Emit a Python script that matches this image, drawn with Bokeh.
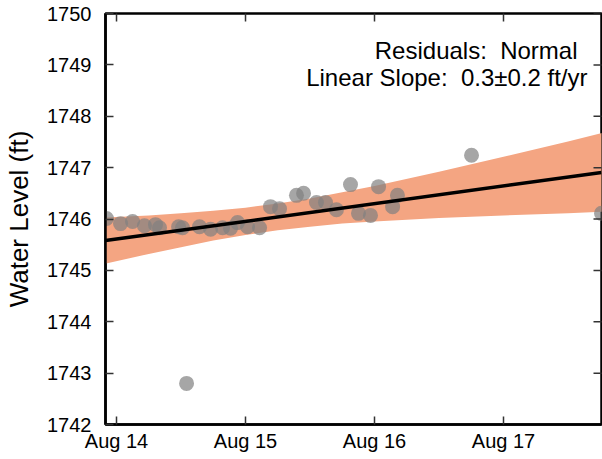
import numpy as np
import pandas as pd
from bokeh.plotting import figure
from bokeh.models import (ColumnDataSource, Label, DatetimeTickFormatter, DaysTicker,
                          Range1d, SingleIntervalTicker)
from bokeh.embed import file_html
from bokeh.resources import INLINE

# ---- data ----
obs_time = ["2015-08-13 22:08", "2015-08-14 00:45", "2015-08-14 02:59", "2015-08-14 05:12",
            "2015-08-14 07:15", "2015-08-14 08:00", "2015-08-14 11:33", "2015-08-14 12:17",
            "2015-08-14 13:02", "2015-08-14 15:26", "2015-08-14 17:30", "2015-08-14 19:44",
            "2015-08-14 21:13", "2015-08-14 22:31", "2015-08-15 00:23", "2015-08-15 02:37",
            "2015-08-15 04:39", "2015-08-15 06:20", "2015-08-15 09:29", "2015-08-15 10:48",
            "2015-08-15 13:12", "2015-08-15 14:53", "2015-08-15 16:55", "2015-08-15 19:32",
            "2015-08-15 21:01", "2015-08-15 23:15", "2015-08-16 00:45", "2015-08-16 03:22",
            "2015-08-16 04:16", "2015-08-16 18:03", "2015-08-17 18:14"]
obs_level = [1746.01, 1745.91, 1745.95, 1745.87,
             1745.89, 1745.83, 1745.85, 1745.83,
             1742.80, 1745.85, 1745.80, 1745.83,
             1745.82, 1745.93, 1745.85, 1745.83,
             1746.24, 1746.20, 1746.46, 1746.50,
             1746.32, 1746.32, 1746.18, 1746.67,
             1746.11, 1746.07, 1746.63, 1746.24,
             1746.46, 1747.24, 1746.11]

fit_time = ["2015-08-13 21:57", "2015-08-17 18:14"]
fit_level = [1745.58, 1746.905]

band_time = ["2015-08-13 21:50", "2015-08-14 06:00", "2015-08-14 12:00", "2015-08-14 18:00",
             "2015-08-15 00:00", "2015-08-15 06:00", "2015-08-15 12:00", "2015-08-15 18:00",
             "2015-08-16 00:00", "2015-08-16 12:00", "2015-08-17 00:00", "2015-08-17 12:00",
             "2015-08-17 18:29"]
band_lower = [1745.13, 1745.32, 1745.45, 1745.58, 1745.69, 1745.78, 1745.85, 1745.91,
              1745.95, 1746.02, 1746.07, 1746.11, 1746.14]
band_upper = [1746.03, 1746.07, 1746.11, 1746.16, 1746.22, 1746.30, 1746.40, 1746.52,
              1746.64, 1746.92, 1747.21, 1747.51, 1747.68]

x_start, x_end = "2015-08-13 21:57", "2015-08-17 18:14"
y_start, y_end = 1742, 1750
day_ticks = ["2015-08-14", "2015-08-15", "2015-08-16", "2015-08-17"]
level_ticks = [1742, 1743, 1744, 1745, 1746, 1747, 1748, 1749, 1750]

NB = "\u00a0"
annot_line1 = "Residuals:" + NB + NB + "Normal"
annot_line2 = "Linear Slope:" + NB + NB + "0.3\u00b10.2 ft/yr"
y_label = "Water Level (ft)"

FONT = "Liberation Sans"
TICK_COLOR = "#333333"

obs = ColumnDataSource(dict(t=pd.to_datetime(obs_time), v=obs_level))
fit = ColumnDataSource(dict(t=pd.to_datetime(fit_time), v=fit_level))
band = ColumnDataSource(dict(t=pd.to_datetime(band_time), lo=band_lower, hi=band_upper))

xs, xe = pd.Timestamp(x_start), pd.Timestamp(x_end)
p = figure(frame_width=496, frame_height=411, output_backend="svg", toolbar_location=None,
           x_axis_type="datetime",
           x_range=Range1d(xs, xe), y_range=Range1d(y_start, y_end),
           min_border_left=105, min_border_right=1, min_border_top=13, min_border_bottom=34)
p.xgrid.visible = False
p.ygrid.visible = False
p.outline_line_color = "black"
p.outline_line_width = 2.5
p.outline_line_alpha = 1.0
p.background_fill_color = "white"
p.border_fill_color = "white"

p.varea(x="t", y1="lo", y2="hi", source=band, fill_color="#F4A582", fill_alpha=1.0)
p.scatter(x="t", y="v", source=obs, size=15, fill_color="gray", fill_alpha=0.7,
          line_color=None)
p.line(x="t", y="v", source=fit, line_color="black", line_width=3.5)

# inward ticks on the top and right edges (half of each dash is clipped by the frame)
top_ticks = ColumnDataSource(dict(t=pd.to_datetime(day_ticks),
                                  v=[y_end] * len(day_ticks)))
right_ticks = ColumnDataSource(dict(t=[xe] * len(level_ticks), v=level_ticks))
p.scatter(x="t", y="v", source=top_ticks, marker="dash", size=16, angle=np.pi / 2,
          line_color=TICK_COLOR, line_width=1.5)
p.scatter(x="t", y="v", source=right_ticks, marker="dash", size=16,
          line_color=TICK_COLOR, line_width=1.5)

def style(ax):
    ax.axis_line_color = "black"
    ax.axis_line_width = 2.5
    ax.major_tick_in = 8
    ax.major_tick_out = 0
    ax.major_tick_line_color = TICK_COLOR
    ax.major_tick_line_width = 1.5
    ax.minor_tick_line_color = None
    ax.major_label_text_font = FONT
    ax.major_label_text_font_size = "20px"
    ax.major_label_text_color = "black"

xa = p.xaxis[0]
xa.ticker = DaysTicker(days=list(range(1, 32)))
xa.formatter = DatetimeTickFormatter(days="%b %d", months="%b %d", hours="%b %d")
style(xa)
xa.major_label_standoff = 5

ya = p.yaxis[0]
ya.ticker = SingleIntervalTicker(interval=1)
style(ya)
ya.major_label_standoff = 10
ya.axis_label = y_label
ya.axis_label_text_font = FONT
ya.axis_label_text_font_size = "26px"
ya.axis_label_text_font_style = "normal"
ya.axis_label_text_color = "black"
ya.axis_label_standoff = 10

p.add_layout(Label(x=472, y=374, x_units="screen", y_units="screen", text=annot_line1,
                   text_align="right", text_baseline="alphabetic", text_font=FONT,
                   text_font_size="24px", text_color="black"))
p.add_layout(Label(x=482, y=347, x_units="screen", y_units="screen", text=annot_line2,
                   text_align="right", text_baseline="alphabetic", text_font=FONT,
                   text_font_size="24px", text_color="black"))

open("out.html", "w").write(file_html(p, INLINE))
